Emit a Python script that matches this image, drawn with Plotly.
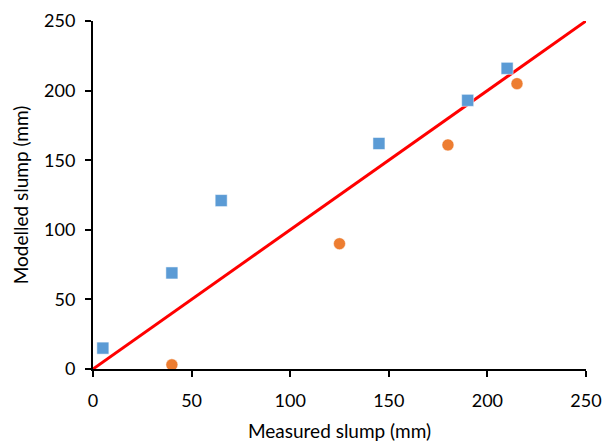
import plotly.graph_objects as go

blue_x = [5, 40, 65, 145, 190, 210]
blue_y = [15, 69, 121, 162, 193, 216]
orange_x = [40, 125, 180, 215]
orange_y = [3, 90, 161, 205]
line_x = [0, 250]
line_y = [0, 250]
ticks = [0, 50, 100, 150, 200, 250]

FONT = "Lato"

fig = go.Figure()
fig.add_trace(go.Scatter(x=line_x, y=line_y, mode="lines",
                         line=dict(color="#FF0000", width=3), showlegend=False, cliponaxis=False))
fig.add_trace(go.Scatter(x=blue_x, y=blue_y, mode="markers",
                         marker=dict(symbol="square", size=12, color="#5B9BD5",
                                     line=dict(width=0.5, color="white")),
                         showlegend=False, cliponaxis=False))
fig.add_trace(go.Scatter(x=orange_x, y=orange_y, mode="markers",
                         marker=dict(symbol="circle", size=12, color="#ED7D31",
                                     line=dict(width=0.5, color="white")),
                         showlegend=False, cliponaxis=False))

axis_common = dict(range=[0, 250], tickvals=ticks, showgrid=False, zeroline=False,
                   showline=True, linecolor="black", linewidth=2, automargin=False,
                   ticks="outside", ticklen=6, tickwidth=2, tickcolor="black",
                   tickfont=dict(family=FONT, size=18, color="black"))

fig.update_xaxes(**axis_common, ticklabelstandoff=8,
                 title=dict(text="Measured slump (mm)", font=dict(family=FONT, size=19, color="black"),
                            standoff=15))
fig.update_yaxes(**axis_common, ticklabelstandoff=6,
                 title=dict(text="Modelled slump (mm)", font=dict(family=FONT, size=19, color="black"),
                            standoff=10))

fig.update_layout(width=614, height=441, margin=dict(l=85, r=36, t=13, b=80, autoexpand=False),
                  plot_bgcolor="white", paper_bgcolor="white")

fig.write_html("out.html")
